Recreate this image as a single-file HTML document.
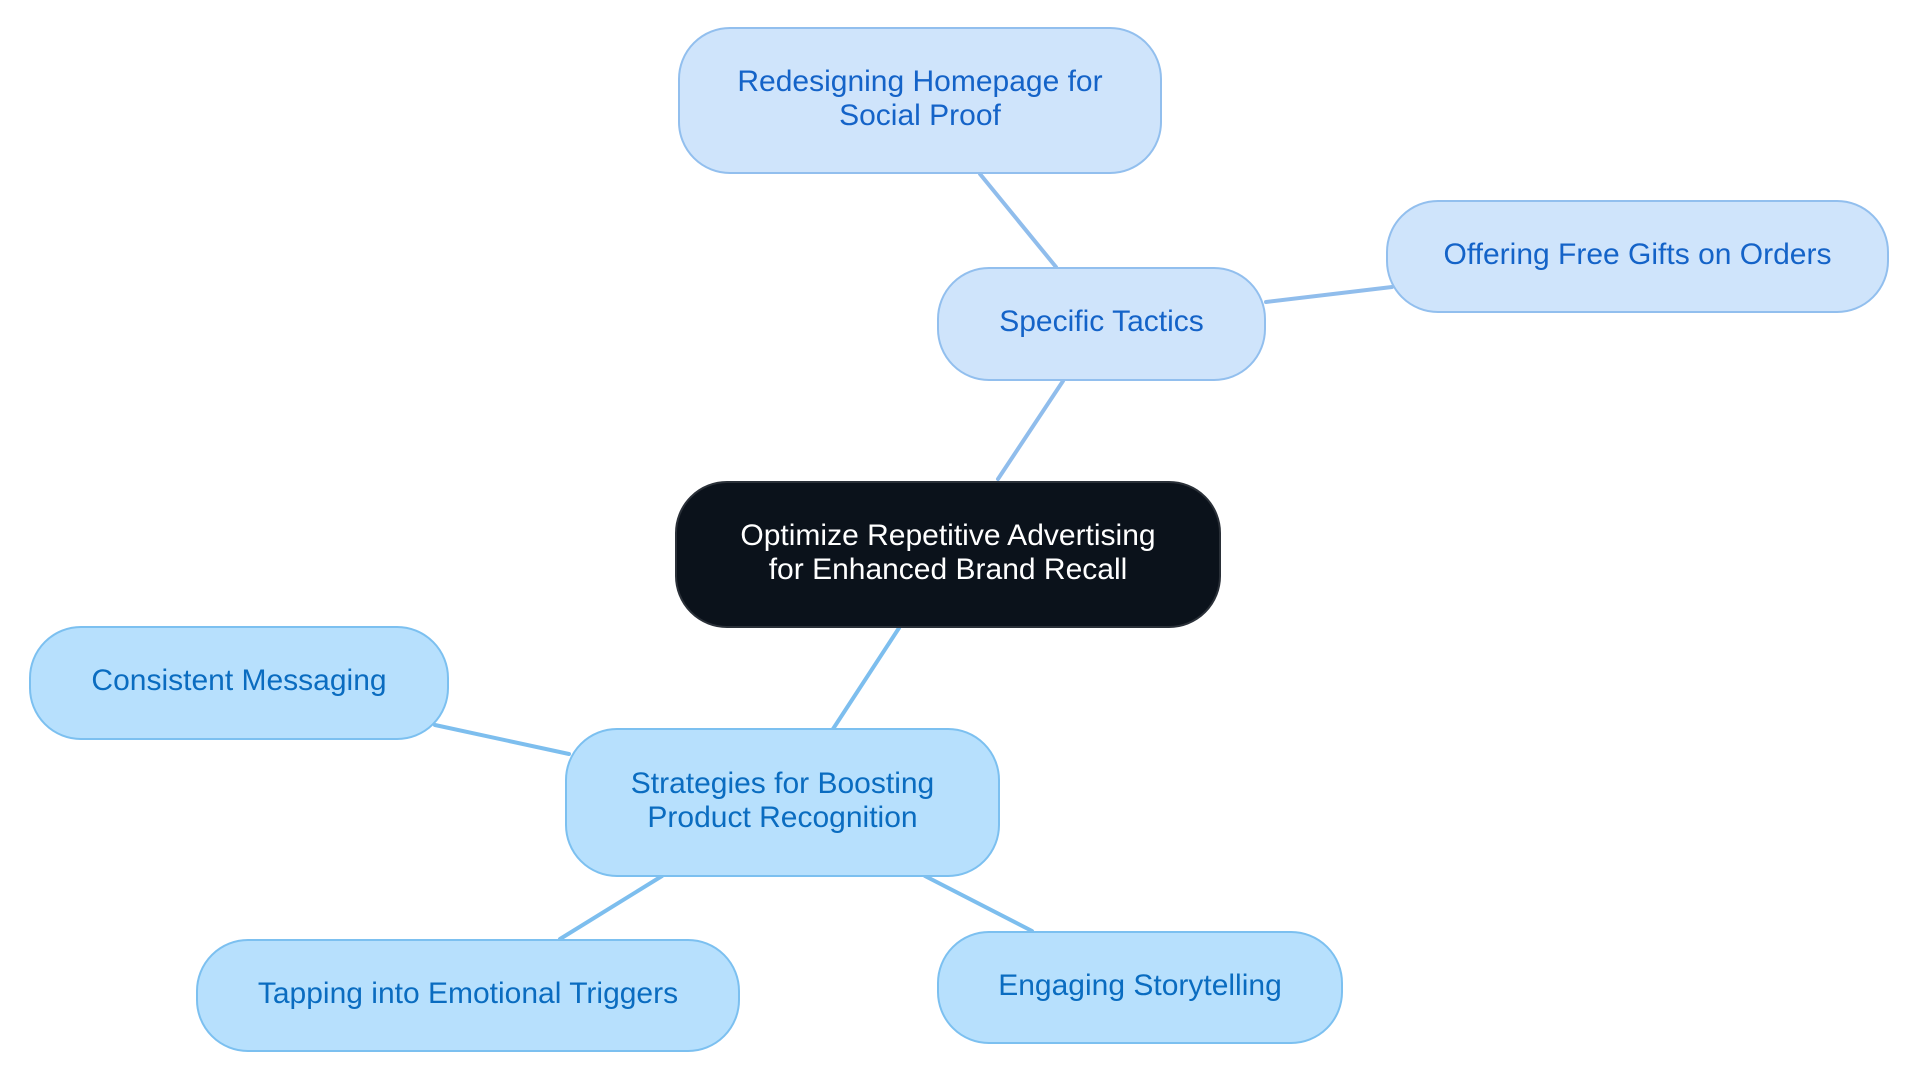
<!DOCTYPE html>
<html><head><meta charset="utf-8"><style>
html,body{margin:0;padding:0;background:#fff;}
body{width:1920px;height:1083px;position:relative;overflow:hidden;font-family:"Liberation Sans",sans-serif;}
.n{position:absolute;box-sizing:border-box;display:flex;align-items:center;justify-content:center;text-align:center;font-size:30px;line-height:34px;padding-bottom:4px;}
.a{background:#cfe4fb;border:2px solid #92bfee;color:#1463c8;}
.b{background:#b7e0fd;border:2px solid #7cc0f0;color:#0a6cc0;}
.c{background:#0b121b;border:2px solid #2a3038;color:#fff;}
svg{position:absolute;left:0;top:0;}
</style></head><body>
<svg width="1920" height="1083">
<g stroke-width="4" stroke-linecap="round">
<line x1="998" y1="479" x2="1063" y2="381" stroke="#90bdec"/>
<line x1="980" y1="174" x2="1056" y2="267" stroke="#90bdec"/>
<line x1="1266" y1="302" x2="1392" y2="287" stroke="#90bdec"/>
<line x1="899" y1="628" x2="833" y2="729" stroke="#7dbeee"/>
<line x1="569" y1="754" x2="435" y2="725" stroke="#7dbeee"/>
<line x1="662" y1="876" x2="560" y2="939" stroke="#7dbeee"/>
<line x1="925" y1="876" x2="1032" y2="931" stroke="#7dbeee"/>
</g></svg>
<div class="n a" style="left:678px;top:27px;width:484px;height:147px;border-radius:52px;">Redesigning Homepage for<br>Social Proof</div>
<div class="n a" style="left:937px;top:267px;width:329px;height:114px;border-radius:52px;">Specific Tactics</div>
<div class="n a" style="left:1386px;top:200px;width:503px;height:113px;border-radius:52px;">Offering Free Gifts on Orders</div>
<div class="n c" style="left:675px;top:481px;width:546px;height:147px;border-radius:52px;">Optimize Repetitive Advertising<br>for Enhanced Brand Recall</div>
<div class="n b" style="left:29px;top:626px;width:420px;height:114px;border-radius:52px;">Consistent Messaging</div>
<div class="n b" style="left:565px;top:728px;width:435px;height:149px;border-radius:52px;">Strategies for Boosting<br>Product Recognition</div>
<div class="n b" style="left:196px;top:939px;width:544px;height:113px;border-radius:52px;">Tapping into Emotional Triggers</div>
<div class="n b" style="left:937px;top:931px;width:406px;height:113px;border-radius:52px;">Engaging Storytelling</div>
</body></html>
